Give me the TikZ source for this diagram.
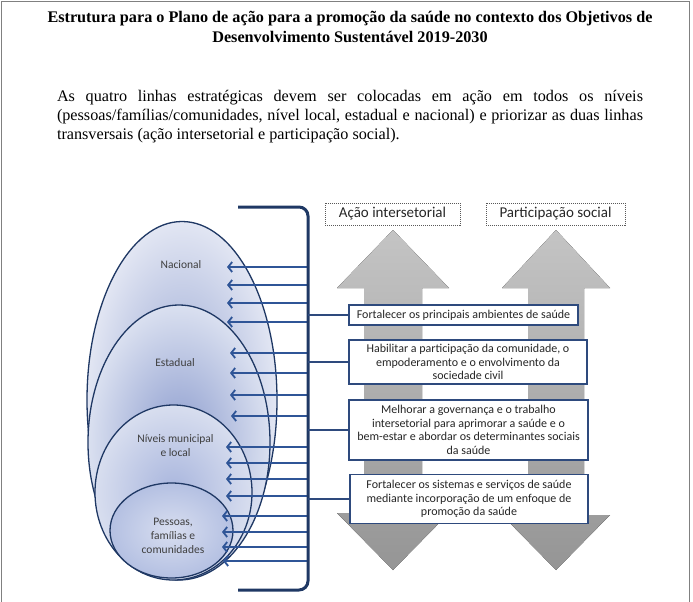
\documentclass[tikz,border=0pt]{standalone}
\usepackage{fontspec}
\setmainfont{Liberation Serif}
\newfontfamily\calibri{Carlito}
\usetikzlibrary{shapes.geometric,arrows.meta}
\definecolor{navy}{HTML}{1F3864}
\definecolor{arrowblue}{HTML}{2F5597}
\definecolor{boxblue}{HTML}{2E4A7D}
\definecolor{labelgray}{HTML}{3F3F3F}
\definecolor{framegray}{HTML}{808080}
\definecolor{garrowtop}{HTML}{C4C4C4}
\definecolor{garrowbot}{HTML}{959595}
\begin{document}
\begin{tikzpicture}[x=1pt,y=-1pt,
  ell/.style={ellipse, draw=navy, line width=1.3pt, inner sep=0pt, shading=radial},
  lvl/.style={font=\calibri\fontsize{11.5}{14}\selectfont, text=labelgray, align=center, inner sep=0pt},
  larrow/.style={draw=arrowblue, line width=1.8pt, -{Straight Barb[length=4pt,width=10pt]}},
  conn/.style={draw=boxblue, line width=1.6pt},
  sbox/.style={draw=boxblue, line width=1.8pt, fill=white, inner sep=0pt, align=center,
    font=\calibri\fontsize{12}{13.6}\selectfont, text=black!85},
  lbox/.style={draw=black!65, line width=0.8pt, dash pattern=on 1pt off 1pt, inner sep=0pt,
    minimum height=22pt, font=\calibri\fontsize{15}{17}\selectfont, text=black!85},
  garrow/.style={top color=garrowtop, bottom color=garrowbot}
]
\useasboundingbox (0,0) rectangle (693,602);
% page frame
\draw[framegray, line width=1pt] (1.5,602) -- (1.5,1.5) -- (689.5,1.5) -- (689.5,602);

% title and paragraph
\node[font=\bfseries\fontsize{16.2}{20}\selectfont, align=center, inner sep=0pt] (title) at (350,27)
  {Estrutura para o Plano de ação para a promoção da saúde no contexto dos Objetivos de\\Desenvolvimento Sustentável 2019-2030};
\node[font=\fontsize{16.2}{19}\selectfont, text width=586pt, align=justify, inner sep=0pt] (para) at (350,117)
  {As quatro linhas estratégicas devem ser colocadas em ação em todos os níveis\linebreak
   (pessoas/famílias/comunidades, nível local, estadual e nacional) e priorizar as duas linhas\linebreak
   transversais (ação intersetorial e participação social).};

% nested ellipses
\node[ell, minimum width=190pt, minimum height=357pt, inner color={rgb,255:red,150;green,165;blue,210}, outer color={rgb,255:red,226;green,230;blue,243}] (nac) at (182,400) {};
\node[ell, minimum width=182pt, minimum height=275pt, inner color={rgb,255:red,140;green,156;blue,206}, outer color={rgb,255:red,218;green,224;blue,240}] (est) at (179,442.5) {};
\node[ell, minimum width=157pt, minimum height=175pt, inner color={rgb,255:red,168;green,181;blue,221}, outer color={rgb,255:red,216;green,222;blue,239}] (mun) at (173.5,492.5) {};
\node[ell, minimum width=123pt, minimum height=95pt, inner color={rgb,255:red,216;green,222;blue,240}, outer color={rgb,255:red,180;green,192;blue,226}] (pes) at (171.5,530.5) {};

\node[lvl] (lnac) at (181,265) {Nacional};
\node[lvl] (lest) at (175,363) {Estadual};
\node[lvl] (lmun) at (175.5,446) {Níveis municipal\\e local};
\node[lvl] (lpes) at (173,536) {Pessoas,\\famílias e\\comunidades};

% big grey double arrows
\fill[garrow] (393,230) -- (449,288) -- (422,288) -- (422,513) -- (449,513) -- (393,570)
  -- (337,513) -- (364,513) -- (364,288) -- (337,288) -- cycle;
\fill[garrow] (556,230) -- (610,288) -- (584,288) -- (584,515) -- (610,515) -- (556,570)
  -- (502,515) -- (528,515) -- (528,288) -- (502,288) -- cycle;

% dotted headings
\node[lbox, minimum width=135pt] (hint) at (392.5,214) {Ação intersetorial};
\node[lbox, minimum width=139pt] (hpar) at (555.5,214) {Participação social};

% strategic line boxes
\node[sbox, minimum width=229pt, minimum height=20pt] (b1) at (463.5,315)
  {Fortalecer os principais ambientes de saúde};
\node[sbox, minimum width=238pt, minimum height=44pt] (b2) at (468,362)
  {Habilitar a participação da comunidade, o\\empoderamento e o envolvimento da\\sociedade civil};
\node[sbox, minimum width=239pt, minimum height=60pt] (b3) at (468.5,430)
  {Melhorar a governança e o trabalho\\intersetorial para aprimorar a saúde e o\\bem-estar e abordar os determinantes sociais\\da saúde};
\node[sbox, minimum width=238pt, minimum height=49pt] (b4) at (469,499)
  {Fortalecer os sistemas e serviços de saúde\\mediante incorporação de um enfoque de\\promoção da saúde};

% arrows from the bracket to the levels
\foreach \yy/\xx [count=\i] in {267/227,285/227,303/227,322/227,353/230,373/230,395/230,416/231,
                                447/226,463/226,479/226,496/226,516/222,532/222,547/222,561/223}{
  \coordinate (s\i) at (308,\yy);
  \coordinate (e\i) at (\xx,\yy);
  \draw[larrow] (s\i) -- (e\i);
}

% bracket
\coordinate (brA) at (238,207);
\coordinate (brB) at (308,207);
\coordinate (brC) at (308,590);
\coordinate (brD) at (238,590);
\draw[navy, line width=3pt, rounded corners=9pt] (brA) -- (brB) -- (brC) -- (brD);

% connectors bracket -> boxes
\coordinate (c1) at (308,315);
\coordinate (c2) at (308,362);
\coordinate (c3) at (308,430);
\coordinate (c4) at (308,499);
\draw[conn] (c1) -- (b1.west);
\draw[conn] (c2) -- (b2.west);
\draw[conn] (c3) -- (b3.west);
\draw[conn] (c4) -- (b4.west);
\end{tikzpicture}
\end{document}
